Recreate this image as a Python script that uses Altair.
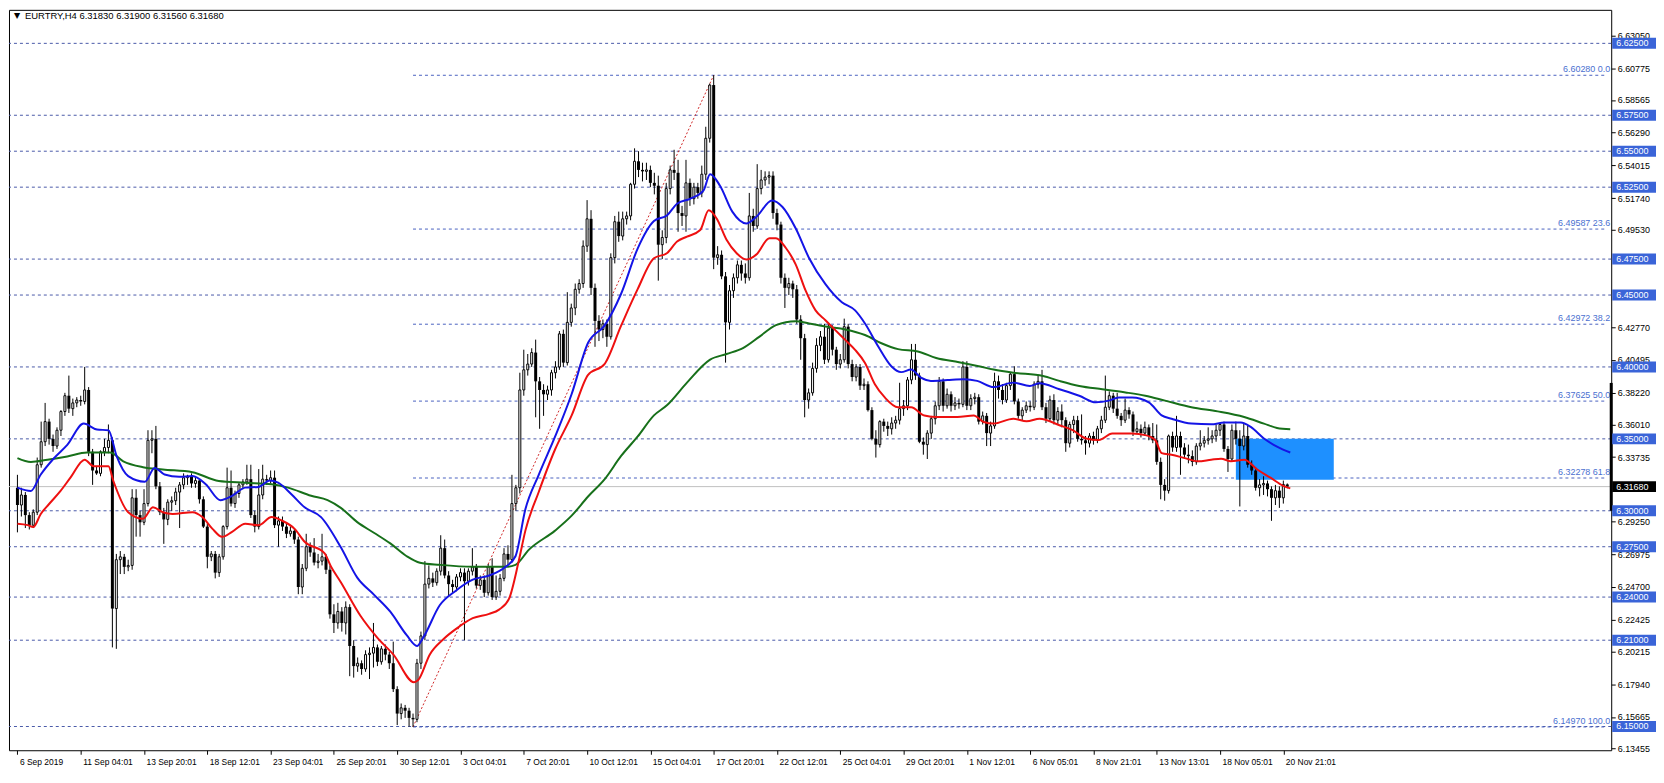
import altair as alt
import pandas as pd

# ---------------- data (prices in thousandths above 6.000, e.g. 316 -> 6.316) ----------------
open_m = [316,304,311,297,290,299,332,348,362,350, 345,356,369,380,371,375,377,376,384,341,
          328,326,341,344,349,232,266,268,261,262, 309,297,292,305,349,350,317,299,294,306,
          307,313,318,323,324,319,321,308,289,268, 270,257,268,289,316,305,312,318,320,322,
          297,289,311,322,321,323,290,293,289,284, 286,280,247,260,275,271,264,265,268,259,
          228,222,230,222,233,206,192,194,190,200, 201,205,195,204,200,194,176,159,163,161,
          156,155,194,213,249,253,250,258,274,255, 249,247,254,257,251,258,261,248,252,243,
          261,240,244,253,270,266,305,316,384,398, 402,410,390,384,381,384,396,400,423,403,
          431,441,454,458,484,503,455,432,426,430, 421,476,501,491,503,505,527,543,537,536,
          537,528,526,485,490,524,537,535,507,505, 528,517,525,521,534,559,596,476,478,463,
          431,453,462,471,465,462,505,498,524,530, 532,533,507,499,462,455,458,454,433,420,
          377,382,399,415,421,405,427,412,402,405, 428,402,393,400,387,388,370,350,346,362,
          359,357,361,363,371,373,391,405,394,348, 346,354,364,373,390,373,381,373,375,374,
          400,373,378,379,362,366,354,359,390,384, 377,387,395,376,366,370,373,372,388,390,
          372,364,377,363,369,363,347,360,363,350, 349,347,352,349,357,363,372,380,371,366,
          363,370,367,355,357,354,358,352,349,334, 318,314,352,344,352,344,339,338,334,345,
          347,349,350,352,356,360,343,336,356,350, 345,352,332,328,316,318,319,315,309,314,
          309,318.3]
close_m = [304,311,297,290,299,332,348,362,350,345, 356,369,380,371,375,377,376,384,341,328,
           326,341,344,349,232,266,268,261,262,309, 297,292,305,349,350,317,299,294,306,307,
           313,318,323,324,319,321,308,289,268,270, 257,268,289,316,305,312,318,320,322,297,
           289,311,322,321,323,290,293,289,284,286, 280,247,260,275,271,264,265,268,259,228,
           222,230,222,233,206,192,194,190,200,201, 205,195,204,200,194,176,159,163,161,156,
           155,194,213,249,253,250,258,274,255,249, 247,254,257,251,258,261,248,252,243,261,
           240,244,253,270,266,305,316,384,398,402, 410,390,384,381,384,396,400,423,403,431,
           441,454,458,484,503,455,432,426,430,421, 476,501,491,503,505,527,543,537,536,537,
           528,526,485,490,524,537,535,507,505,528, 517,525,521,534,559,596,476,478,463,431,
           453,462,471,465,462,505,498,524,530,532, 533,507,499,462,455,458,454,433,420,377,
           382,399,415,421,405,427,412,402,405,428, 402,393,400,387,388,370,350,346,362,359,
           357,361,363,371,373,391,405,394,348,346, 354,364,373,390,373,381,373,375,374,400,
           373,378,379,362,366,354,359,390,384,377, 387,395,376,366,370,373,372,388,390,372,
           364,377,363,369,363,347,360,363,350,349, 347,352,349,357,363,372,380,371,366,363,
           370,367,355,357,354,358,352,349,334,318, 314,352,344,352,344,339,338,334,345,347,
           349,350,352,356,360,343,336,356,350,345, 352,332,328,316,318,319,315,309,314,309,
           318.3,316.8]
high_m = [325,316,313,299,301,337,362,375,364,353, 358,370,382,394,378,379,380,400,386,343,
          331,342,350,360,351,270,272,270,266,315, 315,300,315,356,356,359,320,302,308,310,
          316,320,326,325,326,324,322,310,291,272, 272,270,290,330,328,314,320,322,332,332,
          300,329,332,325,328,328,296,296,291,289, 288,282,263,284,278,281,270,284,270,262,
          235,236,233,237,235,210,198,196,203,205, 222,207,206,207,202,209,178,166,165,163,
          159,197,216,265,262,257,260,283,280,258, 252,256,260,260,260,274,263,255,255,263,
          267,255,256,274,276,325,318,396,412,409, 413,419,393,388,387,398,404,425,426,452,
          444,458,461,488,516,509,458,436,433,433, 479,505,508,508,508,528,552,550,542,542,
          540,535,533,495,528,540,551,544,512,544, 531,528,528,540,567,597,602.8,484,481,466,
          457,465,474,474,472,521,510,541,537,536, 536,536,510,501,465,462,460,457,436,423,
          385,403,420,425,430,430,429,414,409,433.6, 430,405,402,402,392,390,372,356,363,364,
          362,365,366,389,377,393,416,416,396,351, 356,366,376,393,392,385,383,379,378,404,
          404,381,382,381,369,368,362,396,394,388, 389,396,400.5,378,372,376,376,390,394,398,
          375,380,381,372,374,365,362,366,366,367, 352,354,355,359,366,394,383,382,382,368,
          378,372,369,362,360,362,360,361,360,337, 322,353,355,366,355,347,346,342,347,356,
          352,358,356,360,361,362,345,360,362,356, 361,359,335,330,322,324,321,317,318,317,
          321,319]
low_m = [285,296,288,287,288,297,330,345,346,341, 343,352,366,368,366,372,373,374,338,318,
         325,324,338,340,205,204,256,256,258,259, 282,282,290,303,340,315,297,277,290,300,
         304,288,315,318,316,316,305,288,260,265, 253,254,266,287,303,302,309,315,318,295,
         285,287,308,318,319,288,275,286,281,282, 277,242,242,258,268,262,260,262,256,225,
         215,218,216,214,185,184,188,186,188,183, 191,192,193,196,190,174,151,155,156,150,
         149.7,153,190,210,246,247,248,255,253,240, 243,244,251,210,248,255,246,245,240,241,
         238,238,241,251,262,264,300,312,380,394, 400,365,357,366,377,380,392,398,400,401,
         428,436,451,455,480,450,414,418,420,414, 419,472,487,488,499,502,524,532,529,530,
         525,520,460,475,486,520,530,494,498,494, 512,513,517,518,530,556,468,471,461,403,
         426,448,458,460,458,460,494,496,520,526, 527,503,495,458,441,450,448,430,405,365,
         371,380,396,411,402,403,408,398,399,403, 399,390,390,384,384,369,349,337,344,355,
         352,353,357,360,366,370,388,391,347,339, 336,350,360,370,369,371,369,370,371,372,
         370,370,374,360,360,345,345,357,378,374, 375,384,374,364,363,368,369,370,385,370,
         361,362,360,360,358,341,344,354,348,346, 339,344,346,347,354,361,370,368,364,359,
         361,364,352,354,351,352,349,347,332,308, 307,312,341,341,325,336,333,331,332,342,
         344,346,347,348,352,341,327,334,346,303, 342,330,325,314,310,311,310,293,304,302,
         305,315.6]

# moving averages (bar index, value in thousandths above 6)
red_bar = [0,2.6,4,5.9,8,10.9,13.4,17,19.25,23,24.25,28,31.75,34.25,36.75,39.25,44.25,46.75,49.25,51.75,
           54.25,57.6,60.9,64.25,66.75,70,72.6,77.6,79.25,81.75,86.75,90.9,95,100.25,101.3,104.25,107.6,
           110.9,115.1,119.25,121.75,124.25,126.75,128.4,131.75,135.9,140.1,144.25,148.4,152.6,156.75,
           160.9,164.25,166.75,169.25,172.6,174.75,176.75,179.25,181.75,184.25,186.75,190.1,191.75,
           194.25,196.75,199.25,201.75,204.25,206.75,209.25,211.75,214.25,216.75,219.25,222.6,225.9,
           229.25,232.6,237.6,241.75,244.25,246.75,251.75,255.1,258.4,263.4,266.75,270.1,273.4,276.75,
           281.75,285.1,287.6,289.25,291.75,295.1,298.4,301.75,304.25,306.75,310.1,313.4,316.75,320.1,321.75]
red_val = [291,290,288.7,297.8,304.7,313.8,323,335.5,331,331,320.7,299,294.4,302.4,299,297.8,299,295.6,287.6,281.9,
           285.3,291,289.9,295.6,293.3,287.6,278.5,270.5,261.3,250.3,226.8,212,200.1,180.8,182.3,200.1,210.5,
           217.9,225.3,228.3,231.3,238.7,265.4,286.2,312.9,342.6,366.3,394.5,402,428.7,453.9,
           475.6,479.2,487.2,490.6,495.2,508.9,503.2,488.4,479.2,474.7,478.1,489.5,489.5,
           482.7,471.2,453,439.3,432.5,425.6,418.8,411.9,402.8,388,378.8,372,372,
           366.3,365.2,365.2,366.3,361.7,360.6,364,362.2,364,359.5,356,350.3,349.2,353.7,
           353.7,352.6,349.2,340.1,338.9,336.6,334.4,335.5,336.2,334.4,335.5,328.7,323,317.2,315.6]
blue_bar = [0,3.4,5.9,9.25,12.6,16.75,20.1,23,25.1,28,32.2,34.7,37.2,40.9,44.25,47.6,51.3,54.25,57.6,60.9,
            63.8,65.9,69.25,72.6,76.75,81.75,85.9,90.1,94.25,98.4,101,102.6,106.75,110.9,115.1,119.25,
            123.4,125.9,128.4,131.75,135.9,140.1,144.25,148.4,152.6,156.75,160.9,164.25,166.75,170,
            173.4,175.1,177.6,180.75,184.25,186.75,190.75,193.4,196.75,200.1,204.25,208.4,211.75,
            214.25,217.6,220.9,223.4,225.9,228.4,230.9,235.1,239.25,242.6,246.75,251.75,255.9,258.4,
            263.4,268.4,272.6,275.9,278.4,281.75,286,289.25,291.75,296.75,301.75,305.1,309.25,311.75,
            315.1,318.4,321.75]
blue_val = [316.1,313.8,325.2,336.6,345.8,360.6,356.5,356,337.8,324.1,320.2,329.8,325.2,323.6,324.1,318.4,307.4,310.4,316.1,316.6,
            321.1,319.5,311.5,302.4,295.6,274.6,253.5,241.7,229.8,213.5,206,212,234.3,244.6,252.1,255,
            261,268.4,301,324.8,351.5,381.2,416.8,428.7,450.9,482.1,501.4,505.5,513.5,516.9,
            522.6,534,526,507.8,499.8,504.3,515.7,511.2,496.3,475.8,457.6,445,439.3,
            430.2,414.2,400.5,396.4,398.2,392.5,390.3,390.9,391.4,390.3,386,389.1,386.8,388.7,
            384.5,380,375.4,376.6,378.8,378.8,375.4,366.3,364,360.6,360.1,361.3,361.3,358.3,
            350.3,344.6,340.5]
green_bar = [0,3.4,7.6,12.6,17.6,23.4,26.75,31.75,36.75,44.25,50.9,57.6,64.25,68.4,74.25,78.4,81.75,85.9,90.1,
             94.25,98.4,101.75,106.75,115.1,123.4,125.9,129.25,135.9,140.1,144.25,148.4,152.6,156.75,160.9,
             164.25,169.25,175.1,179.25,183.4,187.6,191.75,196.75,200.1,204.75,209.25,214.25,218.4,222.6,
             227.6,232.25,238,243,246.75,251.75,259.25,263.4,268.4,274.25,280.1,285.1,290.1,296.75,303.4,
             310.1,315.1,318.4,321.75]
green_val = [336.6,333.9,335.5,337.8,340.5,340.5,334.4,330.3,328.7,326.8,320.7,319.5,318.4,316.1,310.4,307.4,302,292.1,284.7,
             277.3,268.4,263.9,262.4,261,261,262.4,272.8,286.2,296.6,309.9,321.8,338.1,351.5,366.3,
             373.5,389.1,405.1,409,413.1,421.1,429.1,431.8,430.2,427.9,426.1,422.2,416.5,412.4,
             410.8,406.2,403.3,400.5,398.2,396,393.7,390.3,386.8,384.5,382.3,380,376.6,372,369.1,
             365.2,360.6,357.6,356.7]

tick_bars = [0,16,32,48,64,80,96,112,128,144,160,176,192,208,224,240,256,272,288,304,320]
tick_labels = ["6 Sep 2019","11 Sep 04:01","13 Sep 20:01","18 Sep 12:01","23 Sep 04:01","25 Sep 20:01",
               "30 Sep 12:01","3 Oct 04:01","7 Oct 20:01","10 Oct 12:01","15 Oct 04:01","17 Oct 20:01",
               "22 Oct 12:01","25 Oct 04:01","29 Oct 20:01","1 Nov 12:01","6 Nov 05:01","8 Nov 21:01",
               "13 Nov 13:01","18 Nov 05:01","20 Nov 21:01"]
price_ticks = [6.63050,6.60775,6.58565,6.56290,6.54015,6.51740,6.49530,6.42770,6.40495,
               6.38220,6.36010,6.33735,6.29250,6.26975,6.24700,6.22425,6.20215,6.17940,6.15665,6.13455]
level_prices = [6.625,6.575,6.55,6.525,6.475,6.45,6.40,6.35,6.30,6.275,6.24,6.21,6.15]
fib_prices = [6.60280,6.49587,6.42972,6.37625,6.32278,6.14970]
fib_pcts = ["0.0","23.6","38.2","50.0","61.8","100.0"]
fib_start_bar = 100
trend_bars = [100,176]
trend_prices = [6.14970,6.60280]
zone_bars = [308,332.75]
zone_prices = [6.3215,6.35]
marker_prices = [6.3000,6.3889]   # thick segment on the price scale
last_price = 6.31680
title_text = "EURTRY,H4  6.31830 6.31900 6.31560 6.31680"

# ---------------- layout ----------------
W, H = 1610, 744
XMIN = -0.875
XMAX = XMIN + W / 4.0
YMIN, YMAX = 6.1335, 6.6483
PX = H / (YMAX - YMIN)
BOX_HALF = 5.5 / PX
FONT = "Liberation Sans"

xscale = alt.Scale(domain=[XMIN, XMAX], nice=False, zero=False)
yscale = alt.Scale(domain=[YMIN, YMAX], nice=False, zero=False)
label_expr = "[" + ",".join("'%s'" % t for t in tick_labels) + "][round(datum.value/16)]"
xaxis = alt.Axis(values=tick_bars, labelExpr=label_expr, labelAlign="left", labelOffset=2,
                 labelPadding=3, labelFontSize=8.5, labelFont=FONT, labelColor="black",
                 tickColor="black", tickSize=4, domain=False, grid=False, title=None,
                 labelOverlap=False, labelFlush=False)
yaxis = alt.Axis(orient="right", values=price_ticks, format=".5f", labelFontSize=9, labelFont=FONT,
                 labelColor="black", tickColor="black", tickSize=4, labelPadding=2, domain=False,
                 grid=False, title=None, labelOverlap=False, labelFlush=False)


def X(f):
    return alt.X(f, type="quantitative", scale=xscale, axis=xaxis)


def Y(f):
    return alt.Y(f, type="quantitative", scale=yscale, axis=yaxis)


n = len(close_m)
candles = pd.DataFrame({
    "bar": list(range(n)),
    "o": [6 + v / 1000 for v in open_m],
    "h": [6 + v / 1000 for v in high_m],
    "l": [6 + v / 1000 for v in low_m],
    "c": [6 + v / 1000 for v in close_m],
})
candles["bull"] = candles["c"] >= candles["o"]


def ma_df(bars, vals):
    return pd.DataFrame({"bar": bars, "p": [6 + v / 1000 for v in vals]})


levels = pd.DataFrame({"p": level_prices})
fibs = pd.DataFrame({"p": fib_prices, "x0": fib_start_bar, "x1": XMAX,
                     "label": ["%.5f %s" % (p, s) for p, s in zip(fib_prices, fib_pcts)]})
trend = pd.DataFrame({"x0": [trend_bars[0]], "x1": [trend_bars[1]],
                      "p0": [trend_prices[0]], "p1": [trend_prices[1]]})
zone = pd.DataFrame({"x0": [zone_bars[0]], "x1": [zone_bars[1]],
                     "p0": [zone_prices[0]], "p1": [zone_prices[1]]})
marker = pd.DataFrame({"p0": [marker_prices[0]], "p1": [marker_prices[1]]})
cur = pd.DataFrame({"p": [last_price]})
boxes = pd.DataFrame({"p": level_prices, "t": ["%.5f" % p for p in level_prices]})
boxes["lo"] = boxes["p"] - BOX_HALF
boxes["hi"] = boxes["p"] + BOX_HALF
curbox = pd.DataFrame({"p": [last_price], "t": ["%.5f" % last_price],
                       "lo": [last_price - BOX_HALF], "hi": [last_price + BOX_HALF]})
title_df = pd.DataFrame({"t": [title_text]})

layers = []
layers.append(alt.Chart(cur).mark_rule(color="#c0c0c0", strokeWidth=1).encode(y=Y("p")))
layers.append(alt.Chart(levels).mark_rule(color="#4a5aa8", strokeWidth=1, strokeDash=[3, 3]).encode(y=Y("p")))
layers.append(alt.Chart(fibs).mark_rule(color="#4a62c0", strokeWidth=1, strokeDash=[3, 3]).encode(
    x=X("x0"), x2="x1", y=Y("p")))
layers.append(alt.Chart(zone).mark_rect(color="#1e90ff", opacity=1).encode(
    x=X("x0"), x2="x1", y=Y("p0"), y2="p1"))
layers.append(alt.Chart(trend).mark_rule(color="#d02828", strokeWidth=1, strokeDash=[2, 2]).encode(
    x=X("x0"), x2="x1", y=Y("p0"), y2="p1"))
layers.append(alt.Chart(candles).mark_rule(color="black", strokeWidth=1).encode(
    x=X("bar"), y=Y("l"), y2="h"))
layers.append(alt.Chart(candles).transform_filter("datum.bull").mark_bar(
    size=2, fill="white", stroke="black", strokeWidth=1).encode(x=X("bar"), y=Y("o"), y2="c"))
layers.append(alt.Chart(candles).transform_filter("!datum.bull").mark_bar(
    size=3, color="black").encode(x=X("bar"), y=Y("o"), y2="c"))
for bars, vals, col in [(green_bar, green_val, "#17701a"), (blue_bar, blue_val, "#1414e6"),
                        (red_bar, red_val, "#ee1010")]:
    layers.append(alt.Chart(ma_df(bars, vals)).mark_line(color=col, strokeWidth=2, interpolate="monotone").encode(
        x=X("bar"), y=Y("p")))
layers.append(alt.Chart(fibs).mark_text(align="right", baseline="bottom", dx=-1, dy=-1, fontSize=9,
                                        font=FONT, color="#4a6fd0").encode(
    x=alt.value(W), y=Y("p"), text="label"))
layers.append(alt.Chart(title_df).mark_text(align="left", baseline="middle", fontSize=8, font="DejaVu Sans",
                                            color="black").encode(x=alt.value(5), y=alt.value(6), text=alt.value("▼")))
layers.append(alt.Chart(title_df).mark_text(align="left", baseline="middle", fontSize=9.5, font=FONT,
                                            color="black").encode(x=alt.value(16), y=alt.value(6), text="t"))
layers.append(alt.Chart(marker).mark_rule(color="black", strokeWidth=3).encode(
    x=alt.value(W), y=Y("p0"), y2="p1"))
layers.append(alt.Chart(boxes).mark_rect(color="#3a64d8").encode(
    x=alt.value(W + 1), x2=alt.value(W + 45), y=Y("lo"), y2="hi"))
layers.append(alt.Chart(boxes).mark_text(align="left", baseline="middle", fontSize=9, font=FONT,
                                         color="white").encode(x=alt.value(W + 5), y=Y("p"), text="t"))
layers.append(alt.Chart(curbox).mark_rect(color="black").encode(
    x=alt.value(W + 1), x2=alt.value(W + 45), y=Y("lo"), y2="hi"))
layers.append(alt.Chart(curbox).mark_text(align="left", baseline="middle", fontSize=9, font=FONT,
                                          color="white").encode(x=alt.value(W + 5), y=Y("p"), text="t"))

chart = alt.layer(*layers).properties(width=W, height=H, padding=0, background="white").configure_view(
    stroke="black", strokeWidth=1)

chart.save("out.html", embed_options={"renderer": "svg", "actions": False})
